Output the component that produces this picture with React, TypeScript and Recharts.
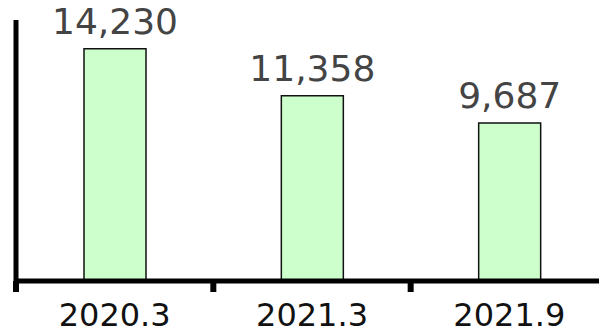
import { BarChart, Bar, XAxis, YAxis, LabelList } from 'recharts';

const periods = ['2020.3', '2021.3', '2021.9'];
const counts = [14230, 11358, 9687];

const data = periods.map((period, i) => ({ period, count: counts[i] }));

const formatCount = (v: number) => v.toLocaleString('en-US');

// category label plus a short tick mark at the left edge of its band
const PeriodTick = (props: any) => {
  const { x, y, payload } = props;
  const half = payload?.offset ?? 0;
  return (
    <g>
      <line x1={x - half} x2={x - half} y1={y} y2={y + 11} stroke="#000" strokeWidth={6} />
      <text x={x} y={y + 22} dy="0.71em" textAnchor="middle" fill="#111" fontSize={32}>
        {payload.value}
      </text>
    </g>
  );
};

export default function App() {
  return (
    <div style={{ position: 'absolute', left: 0, top: 0, width: 599, height: 329, overflow: 'hidden', background: '#fff' }}>
      <BarChart
        width={620}
        height={329}
        data={data}
        margin={{ top: 20, right: 12, bottom: 47, left: 15 }}
        style={{ fontFamily: '"DejaVu Sans", Verdana, sans-serif' }}
      >
        <XAxis
          dataKey="period"
          height={1}
          axisLine={{ stroke: '#000', strokeWidth: 5 }}
          tickLine={false}
          tickSize={0}
          tickMargin={0}
          tick={<PeriodTick />}
          interval={0}
        />
        <YAxis
          width={1}
          domain={[0, 16000]}
          tick={false}
          tickLine={false}
          axisLine={{ stroke: '#000', strokeWidth: 5 }}
        />
        <Bar dataKey="count" fill="#ccffcc" stroke="#111" strokeWidth={1.5} barSize={62} isAnimationActive={false}>
          <LabelList
            dataKey="count"
            position="top"
            offset={15}
            formatter={(v: any) => formatCount(Number(v))}
            style={{ fill: '#444', fontSize: 36 }}
          />
        </Bar>
      </BarChart>
    </div>
  );
}
